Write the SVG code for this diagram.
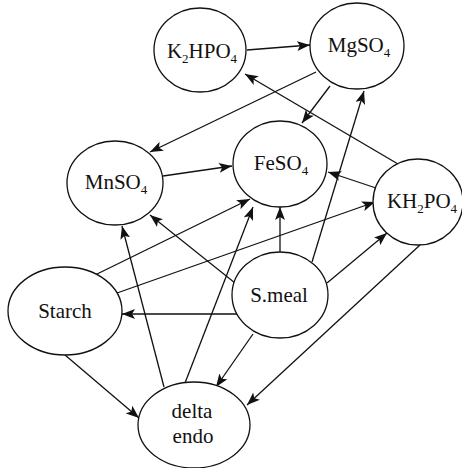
<svg xmlns="http://www.w3.org/2000/svg" width="462" height="468" viewBox="0 0 462 468">
<style>
.n ellipse{fill:#fff;stroke:#111;stroke-width:1.3}
.n text{font-family:"Liberation Serif","Times New Roman",serif;font-size:21px;fill:#111;text-anchor:middle}
.s{font-size:13px}
#edges line{stroke:#111;stroke-width:1.3;marker-end:url(#ah)}
</style>
<defs>
<marker id="ah" markerUnits="userSpaceOnUse" markerWidth="13" markerHeight="10" viewBox="0 0 13 10" refX="13" refY="5" orient="auto">
<path d="M0,0 L13,5 L0,10 L3,5 z" fill="#111"/>
</marker>
</defs>
<rect width="462" height="468" fill="#fff"/>
<g id="edges">
<line x1="247" y1="50" x2="310" y2="45"/>
<line x1="316" y1="72" x2="150" y2="152"/>
<line x1="330" y1="86" x2="302" y2="123"/>
<line x1="398" y1="164" x2="245" y2="74"/>
<line x1="163" y1="176" x2="232" y2="166"/>
<line x1="376" y1="188" x2="328" y2="172"/>
<line x1="312" y1="262" x2="364" y2="91"/>
<line x1="95" y1="275" x2="250" y2="199"/>
<line x1="117" y1="293" x2="375" y2="202"/>
<line x1="327" y1="283" x2="387" y2="233"/>
<line x1="280" y1="253" x2="280" y2="207"/>
<line x1="235" y1="283" x2="150" y2="215"/>
<line x1="237" y1="314" x2="122" y2="314"/>
<line x1="253" y1="334" x2="216" y2="387"/>
<line x1="164" y1="387" x2="122" y2="226"/>
<line x1="185" y1="383" x2="253" y2="207"/>
<line x1="65" y1="355" x2="139" y2="418"/>
<line x1="420" y1="245" x2="247" y2="405"/>
</g>
<g id="K2HPO4" class="n"><ellipse cx="200" cy="50" rx="46" ry="42"/><text x="202" y="58">K<tspan class="s" dy="5">2</tspan><tspan dy="-5">HPO</tspan><tspan class="s" dy="5">4</tspan></text></g>
<g id="MgSO4" class="n"><ellipse cx="357" cy="46" rx="47" ry="43"/><text x="359" y="52">MgSO<tspan class="s" dy="5">4</tspan></text></g>
<g id="MnSO4" class="n"><ellipse cx="115" cy="183" rx="48" ry="42"/><text x="116" y="189">MnSO<tspan class="s" dy="5">4</tspan></text></g>
<g id="FeSO4" class="n"><ellipse cx="280" cy="164" rx="47" ry="43"/><text x="281" y="170">FeSO<tspan class="s" dy="5">4</tspan></text></g>
<g id="KH2PO4" class="n"><ellipse cx="418" cy="202" rx="45" ry="43"/><text x="422" y="208">KH<tspan class="s" dy="5">2</tspan><tspan dy="-5">PO</tspan><tspan class="s" dy="5">4</tspan></text></g>
<g id="Starch" class="n"><ellipse cx="65" cy="311" rx="57" ry="44"/><text x="65" y="318">Starch</text></g>
<g id="Smeal" class="n"><ellipse cx="280" cy="295" rx="48" ry="43"/><text x="279" y="302">S.meal</text></g>
<g id="deltaendo" class="n"><ellipse cx="194" cy="425" rx="56" ry="43"/><text x="192" y="418">delta</text><text x="193" y="443">endo</text></g>
</svg>
